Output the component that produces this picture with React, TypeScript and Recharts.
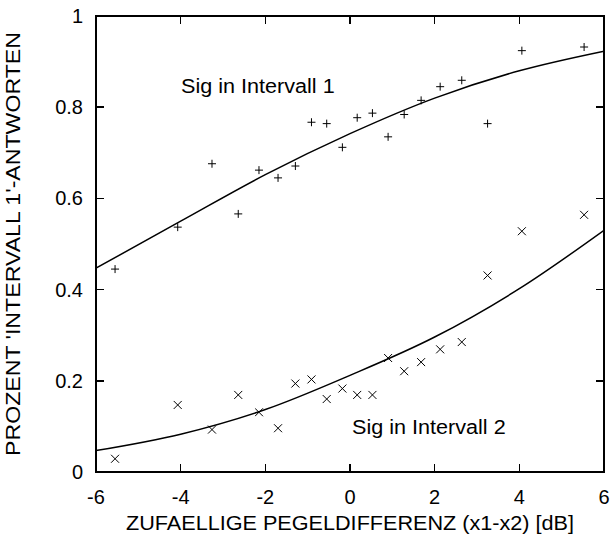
import React from 'react';
import { ComposedChart, Scatter, Line, XAxis, YAxis } from 'recharts';

// random level difference (x1-x2) in dB, same for both conditions
const levelDiffs = [
  -5.55, -4.07, -3.26, -2.64, -2.15, -1.7, -1.29, -0.91, -0.55, -0.18,
  0.17, 0.53, 0.9, 1.28, 1.68, 2.13, 2.64, 3.25, 4.06, 5.53,
];
// proportion of 'interval 1' answers
const sigInterval1 = [
  0.445, 0.537, 0.676, 0.566, 0.662, 0.645, 0.671, 0.767, 0.764, 0.712,
  0.777, 0.787, 0.735, 0.784, 0.815, 0.845, 0.859, 0.764, 0.924, 0.932,
];
const sigInterval2 = [
  0.029, 0.147, 0.093, 0.169, 0.131, 0.096, 0.194, 0.203, 0.16, 0.183,
  0.169, 0.169, 0.25, 0.221, 0.241, 0.269, 0.285, 0.431, 0.528, 0.564,
];
const fitX = [-6, -4, -2, 0, 2, 4, 6];
const fitInterval1 = [0.447, 0.55, 0.652, 0.742, 0.82, 0.88, 0.923];
const fitInterval2 = [0.047, 0.083, 0.137, 0.212, 0.296, 0.402, 0.53];

const xTicks = [-6, -4, -2, 0, 2, 4, 6];
const yTicks = [0, 0.2, 0.4, 0.6, 0.8, 1];

const points1 = levelDiffs.map((x, i) => ({ x, y: sigInterval1[i] }));
const points2 = levelDiffs.map((x, i) => ({ x, y: sigInterval2[i] }));
const fit1 = fitX.map((x, i) => ({ x, y: fitInterval1[i] }));
const fit2 = fitX.map((x, i) => ({ x, y: fitInterval2[i] }));

const FONT = '"Liberation Sans", Arial, sans-serif';
const TICK_LEN = 8;

const W = 610;
const H = 540;
const MARGIN = { top: 16, right: 6, bottom: 0, left: 36 };
const Y_AXIS_W = 60;
const X_AXIS_H = 68;
const PLOT_X = MARGIN.left + Y_AXIS_W;
const PLOT_Y = MARGIN.top;
const PLOT_W = W - MARGIN.left - MARGIN.right - Y_AXIS_W;
const PLOT_H = H - MARGIN.top - MARGIN.bottom - X_AXIS_H;

const Plus = (props: any) => {
  const { cx, cy } = props;
  return (
    <g stroke="#000" strokeWidth={1}>
      <line x1={cx - 4} y1={cy} x2={cx + 4} y2={cy} />
      <line x1={cx} y1={cy - 4} x2={cx} y2={cy + 4} />
    </g>
  );
};

const Cross = (props: any) => {
  const { cx, cy } = props;
  return (
    <g stroke="#000" strokeWidth={1}>
      <line x1={cx - 4} y1={cy - 4} x2={cx + 4} y2={cy + 4} />
      <line x1={cx - 4} y1={cy + 4} x2={cx + 4} y2={cy - 4} />
    </g>
  );
};

const BottomTick = (props: any) => {
  const { x, y, payload } = props;
  return (
    <text x={x} y={y + 32} textAnchor="middle" fontSize={20} fontFamily={FONT} fill="#000">
      {payload.value}
    </text>
  );
};

const LeftTick = (props: any) => {
  const { x, y, payload } = props;
  return (
    <text x={x - 13} y={y + 7} textAnchor="end" fontSize={20} fontFamily={FONT} fill="#000">
      {payload.value}
    </text>
  );
};

// gnuplot-style frame with inward ticks on all four sides (plain boxes)
const Frame = () => {
  const px = (v: number) =>
    PLOT_X + ((v - xTicks[0]) / (xTicks[xTicks.length - 1] - xTicks[0])) * PLOT_W;
  const py = (v: number) =>
    PLOT_Y + PLOT_H - ((v - yTicks[0]) / (yTicks[yTicks.length - 1] - yTicks[0])) * PLOT_H;
  const bottom = PLOT_Y + PLOT_H;
  const right = PLOT_X + PLOT_W;
  const box = (left: number, top: number, width: number, height: number, key: string) => (
    <div
      key={key}
      style={{ position: 'absolute', left, top, width, height, background: '#000' }}
    />
  );
  return (
    <div style={{ position: 'absolute', left: 0, top: 0, width: W, height: H, pointerEvents: 'none' }}>
      <div
        style={{
          position: 'absolute',
          left: PLOT_X - 1,
          top: PLOT_Y - 1,
          width: PLOT_W + 2,
          height: PLOT_H + 2,
          border: '2px solid #000',
          boxSizing: 'border-box',
        }}
      />
      {xTicks.map((t) => box(px(t) - 0.75, bottom - TICK_LEN, 1.5, TICK_LEN, `xb${t}`))}
      {xTicks.map((t) => box(px(t) - 0.75, PLOT_Y, 1.5, TICK_LEN, `xt${t}`))}
      {yTicks.map((t) => box(PLOT_X, py(t) - 0.75, TICK_LEN, 1.5, `yl${t}`))}
      {yTicks.map((t) => box(right - TICK_LEN, py(t) - 0.75, TICK_LEN, 1.5, `yr${t}`))}
    </div>
  );
};

const XTitle = (props: any) => {
  const { viewBox } = props;
  return (
    <text
      x={viewBox.x + viewBox.width / 2}
      y={viewBox.y + 58}
      textAnchor="middle"
      fontSize={20}
      fontFamily={FONT}
      fill="#000"
      textLength={448}
      lengthAdjust="spacingAndGlyphs"
    >
      ZUFAELLIGE PEGELDIFFERENZ (x1-x2) [dB]
    </text>
  );
};

const YTitle = (props: any) => {
  const { viewBox } = props;
  const cy = viewBox.y + viewBox.height / 2;
  return (
    <text
      x={20}
      y={cy}
      transform={`rotate(-90, 20, ${cy})`}
      textAnchor="middle"
      fontSize={20}
      fontFamily={FONT}
      fill="#000"
      textLength={424}
      lengthAdjust="spacingAndGlyphs"
    >
      PROZENT &apos;INTERVALL 1&apos;-ANTWORTEN
    </text>
  );
};

const noteStyle: React.CSSProperties = {
  position: 'absolute',
  fontFamily: FONT,
  fontSize: 20,
  lineHeight: '20px',
  whiteSpace: 'nowrap',
  color: '#000',
  transform: 'scaleX(1.08)',
  transformOrigin: '0 0',
};

export default function App() {
  return (
    <div style={{ position: 'relative', width: W, height: H, background: '#fff' }}>
      <style>{'body{margin:0;background:#fff}'}</style>
      <ComposedChart width={W} height={H} margin={MARGIN}>
        <XAxis
          dataKey="x"
          type="number"
          domain={[-6, 6]}
          ticks={xTicks}
          height={X_AXIS_H}
          tickSize={0}
          tickMargin={0}
          tickLine={false}
          axisLine={false}
          tick={<BottomTick />}
          allowDataOverflow
          label={<XTitle />}
        />
        <YAxis
          type="number"
          domain={[0, 1]}
          ticks={yTicks}
          width={Y_AXIS_W}
          tickSize={0}
          tickMargin={0}
          tickLine={false}
          axisLine={false}
          tick={<LeftTick />}
          allowDataOverflow
          label={<YTitle />}
        />
        <Line
          data={fit1}
          dataKey="y"
          type="monotone"
          stroke="#000"
          strokeWidth={1.5}
          dot={false}
          isAnimationActive={false}
        />
        <Line
          data={fit2}
          dataKey="y"
          type="monotone"
          stroke="#000"
          strokeWidth={1.5}
          dot={false}
          isAnimationActive={false}
        />
        <Scatter data={points1} dataKey="y" shape={<Plus />} isAnimationActive={false} />
        <Scatter data={points2} dataKey="y" shape={<Cross />} isAnimationActive={false} />
      </ComposedChart>
      <Frame />
      <div style={{ ...noteStyle, left: 181, top: 76 }}>Sig in Intervall 1</div>
      <div style={{ ...noteStyle, left: 352, top: 417 }}>Sig in Intervall 2</div>
    </div>
  );
}
